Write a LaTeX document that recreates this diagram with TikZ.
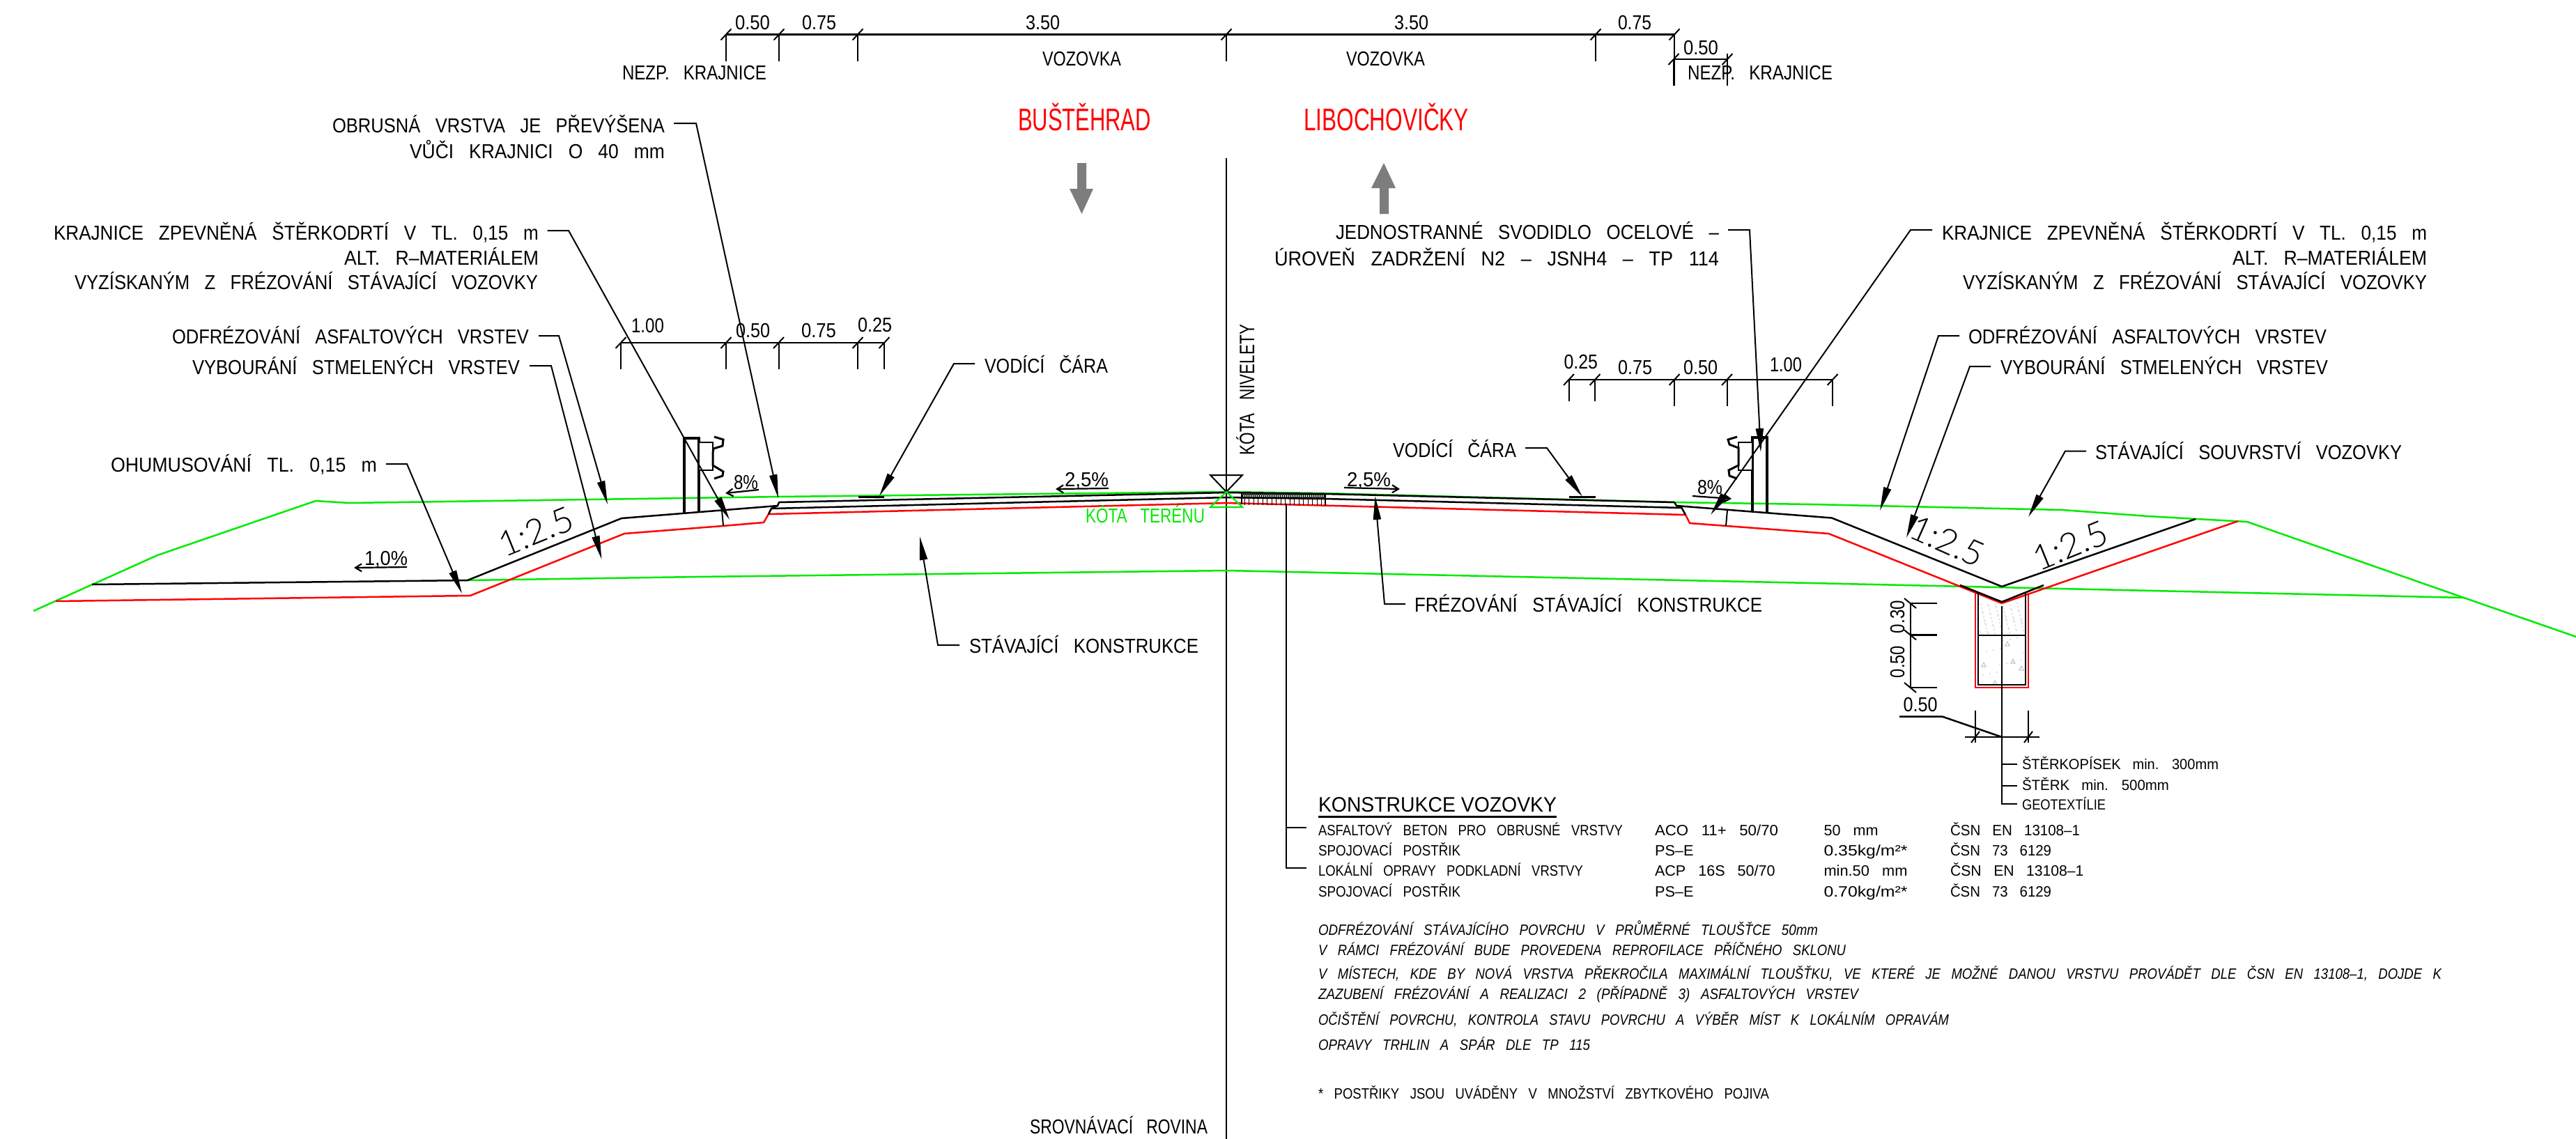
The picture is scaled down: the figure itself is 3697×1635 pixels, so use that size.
\documentclass[tikz,border=0pt]{standalone}
\usepackage{fontspec}
\usepackage{graphicx}
\usetikzlibrary{arrows.meta}
\setmainfont[WordSpace=3]{Liberation Sans}
\newfontfamily\hdfont{Liberation Sans}
\newfontfamily\lightfont{Lato Light}
\definecolor{rd}{RGB}{255,0,0}
\definecolor{gr}{RGB}{0,235,0}
\definecolor{ar}{RGB}{125,125,125}
\definecolor{sp}{RGB}{190,190,190}
\tikzset{
  txt/.style={inner sep=0pt,outer sep=0pt,anchor=base west},
  thin line/.style={line width=2pt,line cap=butt},
  dimline/.style={line width=2.5pt},
  greenl/.style={gr,line width=2.5pt,line join=round},
  redl/.style={rd,line width=2.5pt,line join=round},
  blackl/.style={black,line width=2.5pt,line join=round},
  thick post/.style={black,line width=3.2pt,line join=miter},
  leader/.style={line width=2pt,-{Triangle[length=34pt,width=11pt]}},
  slope/.style={line width=2.2pt,-{Straight Barb[length=9pt,width=11pt]}},
  ratio/.style={inner sep=0pt,font=\lightfont\fontsize{50}{50}\selectfont},
}
% \lab[opts]{name}{x,y}{width}{fontsize}{text}
\newcommand\lab[6][]{\node[txt,#1] (#2) at (#3) {\resizebox{#4pt}{\height}{\fontsize{#5}{#5}\selectfont #6}};}
% \lead{name}{start}{knee}{tip}
\newcommand\lead[4]{\coordinate (#1a) at (#2);\coordinate (#1b) at (#3);\coordinate (#1c) at (#4);\draw[leader] (#1a) -- (#1b) -- (#1c);}
% \slp{name}{from}{to}
\newcommand\slp[3]{\coordinate (#1a) at (#2);\coordinate (#1b) at (#3);\draw[slope] (#1a) -- (#1b);}
% horizontal dimension tick with extension
\newcommand\dtick[4]{\coordinate (#1) at (#2,#3);\coordinate (#1e) at (#2,#4);\draw[thin line] (#1) -- (#1e);\draw[thin line] ([shift={(-7.5,8)}]#1) -- ([shift={(7.5,-8)}]#1);}
\begin{document}
\begin{tikzpicture}[x=1pt,y=-1pt]
\useasboundingbox (0,0) rectangle (3697,1635);
% ---------- top dimensions
\dtick{ta}{1042}{49.5}{88}\dtick{tb}{1118}{49.5}{88}\dtick{tc}{1231}{49.5}{88}\dtick{td}{1760}{49.5}{88}
\dtick{te}{2290}{49.5}{88}\dtick{tf}{2403}{49.5}{123}
\draw[dimline] (ta) -- (tf);
\dtick{tg}{2402}{85}{123}\dtick{th}{2479}{85}{123}
\draw[thin line] (th) -- ++(0,-8);
\draw[dimline] (tg) -- (th);
\lab{t050a}{1055,42.7}{50}{29}{0.50}
\lab{t075a}{1151,42.7}{49}{29}{0.75}
\lab{t350a}{1472,42.7}{49}{29}{3.50}
\lab{t350b}{2001,42.7}{49}{29}{3.50}
\lab{t075b}{2322,42.7}{48}{29}{0.75}
\lab{t050b}{2416,79}{50}{29}{0.50}
\lab{voza}{1496,95}{113}{29}{VOZOVKA}
\lab{vozb}{1932,95}{113}{29}{VOZOVKA}
\lab{neza}{893,115}{207}{29}{NEZP. KRAJNICE}
\lab{nezb}{2422,114}{208}{29}{NEZP. KRAJNICE}
\lab[text=rd]{bus}{1461,188}{191}{45}{BUŠTĚHRAD}
\lab[text=rd]{lib}{1871,188}{237}{45}{LIBOCHOVIČKY}
% direction arrows
\fill[ar] (1546,234) -- (1559,234) -- (1559,271) -- (1569,271) -- (1552.5,307) -- (1535,271) -- (1546,271) -- cycle;
\fill[ar] (1980,307) -- (1993,307) -- (1993,270) -- (2003,270) -- (1986,234) -- (1968,270) -- (1980,270) -- cycle;
% centre line
\coordinate (cl1) at (1760,227);\coordinate (cl2) at (1760,1635);
\draw[line width=2pt] (cl1) -- (cl2);
% ---------- terrain and layers
\draw[greenl] (48,877) -- (226,797) -- (453,719) -- (501,722) -- (982,715) -- (1117,713) -- (1761,706) -- (1900,708) -- (2403,721) -- (2600,724) -- (2960,732) -- (3083,741) -- (3153,745) -- (3225,749) -- (3536,858) -- (3697,914);
\draw[greenl] (671,833) -- (1000,828) -- (1761,819) -- (1900,822) -- (2600,837) -- (3536,858);
\draw[redl] (80,863) -- (675,855) -- (896,766) -- (1037,755) -- (1096,750) -- (1103,738) -- (1761,722) -- (1800,723) -- (2419,739) -- (2425,751) -- (2624.5,766) -- (2873,866) -- (3212,748);
\draw[blackl] (132,839) -- (671,833) -- (892,744) -- (1116,726) -- (1118,721) -- (1761,707) -- (1902,709) -- (2403,721) -- (2406,726) -- (2629,743.5) -- (2873,842) -- (3151,745);
\draw[blackl] (1107,730) -- (1761,714) -- (1902,716) -- (2413.5,729);
\draw[blackl] (1116,726) -- (1107,730) -- (1103,738);
\draw[blackl] (2406,726) -- (2413.5,729) -- (2419,739);
\draw[thin line] (1036,732) -- (1038,755);
\draw[thin line] (2479,732) -- (2477,755);
% ---------- hatching at the median
\draw[black,line width=2pt] (1782,707) -- (1782,724) (1902,709) -- (1902,726);
\foreach \i in {0,...,39}{
  \draw[black,line width=.9pt] ({1782+3*\i},708) -- ({1785+3*\i},716) ({1785+3*\i},708) -- ({1782+3*\i},716);
}
\foreach \i in {0,...,17}{
  \draw[black,line width=1pt] ({1786+6.5*\i},716) -- ({1786+6.5*\i},725);
}
% ---------- guard rails
\draw[thick post] (982,736) -- (982,629) -- (1003,629) -- (1003,735);
\draw[line width=2pt,fill=white] (1003,635) rectangle (1023,675);
\draw[line width=3pt] (1025,627) -- (1038,631) -- (1037,640) -- (1024,644) -- (1023,650) -- (1023,668) -- (1038,677) -- (1037,683) -- (1025,687);
\draw[thick post] (2515,735) -- (2515,628) -- (2536,628) -- (2536,735);
\draw[line width=2pt,fill=white] (2495,635) rectangle (2515,675);
\draw[line width=3pt] (2493,627) -- (2480,631) -- (2482,638) -- (2495,643) -- (2495,668) -- (2481,675) -- (2482,683) -- (2493,687);
% ---------- side dimensions
\dtick{la}{891}{492}{530}\dtick{lb}{1042}{492}{530}\dtick{lc}{1117.5}{492}{530}\dtick{ld}{1231}{492}{530}\dtick{le}{1269}{492}{530}
\draw[dimline] (la) -- (le);
\lab{l100}{906,477}{47}{29}{1.00}
\lab{l050}{1056,484}{49}{29}{0.50}
\lab{l075}{1150,484}{50}{29}{0.75}
\lab{l025}{1231,476}{49}{29}{0.25}
\dtick{ra}{2251.5}{545}{576}\dtick{rb}{2289}{545}{576}\dtick{rc}{2403}{545}{583}\dtick{rd1}{2478.5}{545}{583}\dtick{re}{2630}{545}{583}
\draw[dimline] (ra) -- (re);
\lab{r025}{2244.5,529}{48.5}{29}{0.25}
\lab{r075}{2322,537}{49}{29}{0.75}
\lab{r050}{2416,537}{49}{29}{0.50}
\lab{r100}{2540,533}{46}{29}{1.00}
% ---------- slope marks
\lab{s10}{523,811}{62}{29}{1,0\%}\slp{sa}{584,814}{508,815}
\lab{s8a}{1053,702}{35}{29}{8\%}\slp{sb}{1089,703}{1041,708}
\lab{s25a}{1528,698}{63}{29}{2,5\%}\slp{sc}{1591,701}{1515,702}
\lab{s25b}{1933,698}{63}{29}{2,5\%}\slp{sd}{1929,700}{2009,702}
\lab{s8b}{2436,709}{36}{29}{8\%}\slp{se}{2429,712}{2485,716}
\node[ratio,rotate=22] (n1) at (769,763) {1:2.5};
\node[ratio,rotate=-24] (n2) at (2795,777) {1:2.5};
\node[ratio,rotate=22] (n3) at (2971,783) {1:2.5};
% ---------- marks for guide lines
\coordinate (vm1) at (1232,713);\coordinate (vm2) at (1269,713);\draw[line width=3pt] (vm1) -- (vm2);
\coordinate (vm3) at (2251.5,713);\coordinate (vm4) at (2290,713);\draw[line width=3pt] (vm3) -- (vm4);
% ---------- leaders with labels
\lab{obr1}{477,190.5}{477}{29}{OBRUSNÁ VRSTVA JE PŘEVÝŠENA}
\lab{obr2}{588,227}{366}{29}{VŮČI KRAJNICI O 40 mm}
\lead{la1}{967,177}{999,177}{1117,715}
\lab{kr1}{77,344}{696}{29}{KRAJNICE ZPEVNĚNÁ ŠTĚRKODRTÍ V TL. 0,15 m}
\lab{kr2}{494,380}{279}{29}{ALT. R–MATERIÁLEM}
\lab{kr3}{107,415}{665}{29}{VYZÍSKANÝM Z FRÉZOVÁNÍ STÁVAJÍCÍ VOZOVKY}
\lead{la2}{785.5,331}{816,331}{1047,746}
\lab{odf1}{247,493}{512}{29}{ODFRÉZOVÁNÍ ASFALTOVÝCH VRSTEV}
\lead{la3}{773,482}{802,482}{872,724}
\lab{vyb1}{276,537}{470}{29}{VYBOURÁNÍ STMELENÝCH VRSTEV}
\lead{la4}{760,525}{791,525}{863.5,803}
\lab{ohu}{159,677}{382}{29}{OHUMUSOVÁNÍ TL. 0,15 m}
\lead{la5}{554,666}{584,666}{663,852}
\lab{vod1}{1413,535}{177}{29}{VODÍCÍ ČÁRA}
\lead{la6}{1399,522}{1369,522}{1262,712}
\lab{sta}{1391,937}{329}{29}{STÁVAJÍCÍ KONSTRUKCE}
\lead{la7}{1377,926}{1346,926}{1320,770}
\lab{jed1}{1917,343}{550}{29}{JEDNOSTRANNÉ SVODIDLO OCELOVÉ –}
\lab{jed2}{1829,381}{638}{29}{ÚROVEŇ ZADRŽENÍ N2 – JSNH4 – TP 114}
\lead{ra1}{2480,330}{2511,330}{2527,649}
\lab{kr4}{2787,344}{696}{29}{KRAJNICE ZPEVNĚNÁ ŠTĚRKODRTÍ V TL. 0,15 m}
\lab{kr5}{3204,380}{279}{29}{ALT. R–MATERIÁLEM}
\lab{kr6}{2817,415}{666}{29}{VYZÍSKANÝM Z FRÉZOVÁNÍ STÁVAJÍCÍ VOZOVKY}
\lead{ra2}{2773,330}{2742,330}{2455,739}
\lab{odf2}{2825,493}{514}{29}{ODFRÉZOVÁNÍ ASFALTOVÝCH VRSTEV}
\lead{ra3}{2812,482}{2782,482}{2698,733}
\lab{vyb2}{2871,537}{470}{29}{VYBOURÁNÍ STMELENÝCH VRSTEV}
\lead{ra4}{2857,526}{2827,526}{2736,772}
\lab{vod2}{1999,656}{177}{29}{VODÍCÍ ČÁRA}
\lead{ra5}{2189,643}{2220,643}{2271,713}
\lab{fre}{2030,878}{499}{29}{FRÉZOVÁNÍ STÁVAJÍCÍ KONSTRUKCE}
\lead{ra6}{2017,867}{1987,867}{1973.5,712}
\lab{sou}{3007,659}{440}{29}{STÁVAJÍCÍ SOUVRSTVÍ VOZOVKY}
\lead{ra7}{2994,647.5}{2964,647.5}{2911,742}
% ---------- centre labels
\draw[thin line] (1737,682) -- (1783,682) -- (1760,706) -- cycle;
\draw[gr,line width=2.2pt] (1760,706) -- (1783,728) -- (1737,728) -- cycle;
\lab[rotate=90]{niv}{1800,653}{187}{30}{KÓTA NIVELETY}
\lab[text=gr]{ter}{1558,750}{171}{29}{KÓTA TERÉNU}
\lab{sro}{1478,1627}{255}{29}{SROVNÁVACÍ ROVINA}
% ---------- trench
\foreach \i in {1,...,70}{
  \pgfmathsetmacro\dx{2842+mod(\i*37,63)}\pgfmathsetmacro\dy{866+mod(\i*23,44)}
  \fill[sp] (\dx,\dy) circle (.9pt);
}
\foreach \i in {1,...,14}{
  \pgfmathsetmacro\dx{2842+mod(\i*29,63)}\pgfmathsetmacro\dy{914+mod(\i*17,66)}
  \fill[sp] (\dx,\dy) circle (.8pt);
}
\foreach \px/\py in {2881/924,2889/949,2901/959,2847/954,2863/980}{
  \draw[sp,line width=1pt] (\px,\py-3) -- (\px+3,\py+3) -- (\px-3,\py+3) -- cycle;
}
\draw[rd,line width=2.2pt] (2835,851) -- (2835,987) -- (2911,987) -- (2911,851);
\draw[line width=2.2pt] (2839.3,851) -- (2839.3,982.7) -- (2907.3,982.7) -- (2907.3,851);
\draw[line width=2.2pt] (2839.3,911.7) -- (2907.3,911.7);
\draw[line width=2.5pt] (2813,840) -- (2873,864) -- (2933,840);
\coordinate (tcv) at (2873,870);\coordinate (tcb) at (2873,1153.5);
\draw[thin line] (tcv) -- (tcb) -- (2895,1153.5);
\draw[thin line] (2873,1097) -- (2895,1097) (2873,1127.5) -- (2895,1127.5);
\lab{st1}{2902,1104}{282}{21}{ŠTĚRKOPÍSEK min. 300mm}
\lab{st2}{2902,1134}{211}{21}{ŠTĚRK min. 500mm}
\lab{st3}{2902,1162.5}{120}{21}{GEOTEXTÍLIE}
% trench dimensions
\coordinate (vd1) at (2742,866);\coordinate (vd2) at (2742,911.4);\coordinate (vd3) at (2742,987);
\draw[thin line] (vd1) -- (vd3);
\foreach \n in {vd1,vd2,vd3}{
  \draw[dimline] (\n) -- ++(38,0);
  \draw[thin line] ([shift={(-9,-7)}]\n) -- ([shift={(8,7)}]\n);
}
\lab[rotate=90]{d030}{2733,909}{47}{29}{0.30}
\lab[rotate=90]{d050}{2733,973}{46}{29}{0.50}
\coordinate (hd1) at (2820,1058);\coordinate (hd2) at (2927,1058);
\draw[dimline] (hd1) -- (hd2);
\draw[thin line] (2835,1020) -- (2835,1066) (2911,1020) -- (2911,1066);
\draw[thin line] (2829,1066) -- (2841,1050) (2905,1066) -- (2917,1050);
\draw[dimline] (2873,1058) -- (2787.5,1028.6) -- (2726,1028.6);
\lab{d050b}{2731.5,1021}{49}{29}{0.50}
% ---------- table
\node[txt] (hd) at (1892,1165.5) {\resizebox{342pt}{\height}{\fontsize{30}{30}\selectfont\hdfont KONSTRUKCE VOZOVKY}};
\coordinate (ul1) at (1892,1172);\coordinate (ul2) at (2234,1172);\draw[line width=3pt] (ul1) -- (ul2);
\coordinate (bl1) at (1846,723);\coordinate (bl2) at (1846,1246);\coordinate (bl3) at (1875,1246);\coordinate (bl4) at (1846,1188);\coordinate (bl5) at (1875,1188);
\draw[thin line] (bl1) -- (bl2) -- (bl3);\draw[thin line] (bl4) -- (bl5);
\lab{c11}{1892,1199}{437}{21.5}{ASFALTOVÝ BETON PRO OBRUSNÉ VRSTVY}
\lab{c12}{2375,1199}{177}{21.5}{ACO 11+ 50/70}
\lab{c13}{2617.5,1199}{78}{21.5}{50 mm}
\lab{c14}{2799,1199}{186}{21.5}{ČSN EN 13108–1}
\lab{c21}{1892,1228}{204}{21.5}{SPOJOVACÍ POSTŘIK}
\lab{c22}{2375,1228}{55.5}{21.5}{PS–E}
\lab{c23}{2617.5,1228}{120}{21.5}{0.35kg/m²*}
\lab{c24}{2799,1228}{145}{21.5}{ČSN 73 6129}
\lab{c31}{1892,1257.7}{380}{21.5}{LOKÁLNÍ OPRAVY PODKLADNÍ VRSTVY}
\lab{c32}{2375,1257.7}{172.5}{21.5}{ACP 16S 50/70}
\lab{c33}{2617.5,1257.7}{120}{21.5}{min.50 mm}
\lab{c34}{2799,1257.7}{191.5}{21.5}{ČSN  EN 13108–1}
\lab{c41}{1892,1287}{204}{21.5}{SPOJOVACÍ POSTŘIK}
\lab{c42}{2375,1287}{55.5}{21.5}{PS–E}
\lab{c43}{2617.5,1287}{120}{21.5}{0.70kg/m²*}
\lab{c44}{2799,1287}{145}{21.5}{ČSN 73 6129}
\lab{n1t}{1892,1342}{717}{21.5}{\itshape ODFRÉZOVÁNÍ STÁVAJÍCÍHO POVRCHU V PRŮMĚRNÉ TLOUŠŤCE 50mm}
\lab{n2t}{1892,1371}{757}{21.5}{\itshape V RÁMCI FRÉZOVÁNÍ BUDE PROVEDENA REPROFILACE PŘÍČNÉHO SKLONU}
\lab{n3t}{1892,1405}{1612}{21.5}{\itshape V MÍSTECH, KDE BY NOVÁ VRSTVA PŘEKROČILA MAXIMÁLNÍ TLOUŠŤKU, VE KTERÉ JE MOŽNÉ DANOU VRSTVU PROVÁDĚT DLE ČSN EN 13108–1, DOJDE K}
\lab{n4t}{1892,1434.5}{775}{21.5}{\itshape ZAZUBENÍ FRÉZOVÁNÍ A REALIZACI 2 (PŘÍPADNĚ 3) ASFALTOVÝCH VRSTEV}
\lab{n5t}{1892,1471}{905}{21.5}{\itshape OČIŠTĚNÍ POVRCHU, KONTROLA STAVU POVRCHU A VÝBĚR MÍST K LOKÁLNÍM OPRAVÁM}
\lab{n6t}{1892,1507}{390}{21.5}{\itshape OPRAVY TRHLIN A SPÁR DLE TP 115}
\lab{n7t}{1892,1577}{647}{21.5}{* POSTŘIKY JSOU UVÁDĚNY V MNOŽSTVÍ ZBYTKOVÉHO POJIVA}
\end{tikzpicture}
\end{document}
